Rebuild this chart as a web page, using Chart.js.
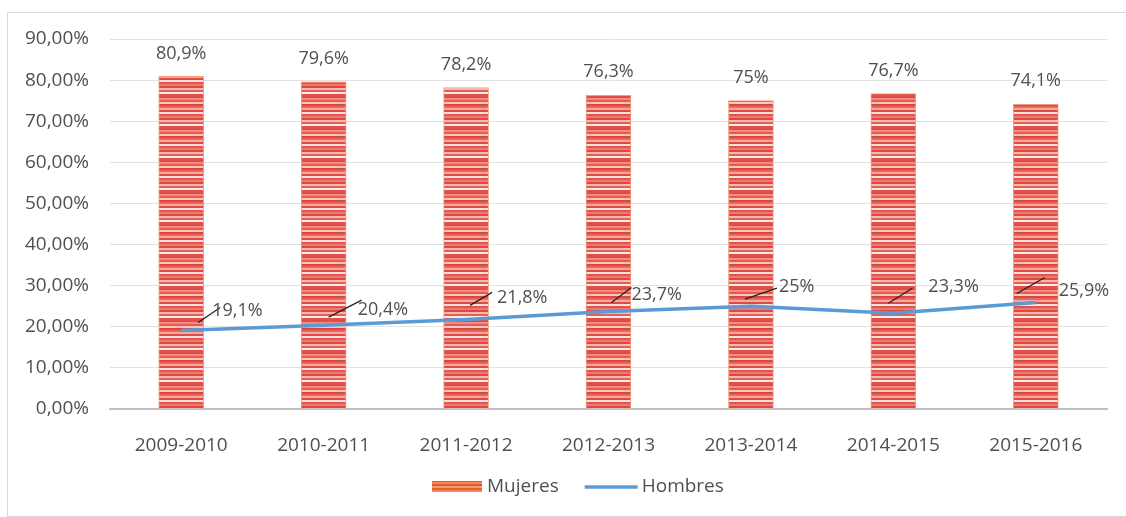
<!DOCTYPE html>
<html>
<head>
<meta charset="utf-8">
<script src="https://cdn.jsdelivr.net/npm/chart.js@4/dist/chart.umd.min.js"></script>
<style>
  body { margin: 0; background: #fff; overflow: hidden; }
  #marco { position: absolute; left: 7px; top: 12px; width: 1140px; height: 503px; border: 1px solid #d9d9d9; }
  #grafico { position: absolute; left: 0; top: 0; }
</style>
</head>
<body>
<div id="marco"></div>
<canvas id="grafico" width="1126" height="517"></canvas>
<script>
var cursos = ['2009-2010', '2010-2011', '2011-2012', '2012-2013', '2013-2014', '2014-2015', '2015-2016'];
var mujeres = [80.9, 79.6, 78.2, 76.3, 75, 76.7, 74.1];
var hombres = [19.1, 20.4, 21.8, 23.7, 25, 23.3, 25.9];
var yTicks = [0, 10, 20, 30, 40, 50, 60, 70, 80, 90];

// hand-placed labels for the line: [leader x1, y1, x2, y2, text x, text y] relative to each point
var colocacion = [
  [17, -8, 39, -23, 31, -20],
  [5, -8, 38, -25, 34, -15],
  [4, -14, 26, -27, 31, -22],
  [3, -9, 23, -24, 23, -17],
  [-6, -7, 26, -18, 28, -19],
  [-5, -10, 19, -25, 35, -26],
  [-19, -9, 9, -25, 23, -12]
];

var fuente = '"Open Sans", sans-serif';
var gris = '#505050';

function pct(v) {
  return String(v).replace('.', ',') + '%';
}

/* striped fill for the bars */
function rayas(cols, ancho) {
  var c = document.createElement('canvas');
  c.width = ancho; c.height = cols.length * 2;
  var g = c.getContext('2d');
  for (var i = 0; i < cols.length; i++) {
    g.fillStyle = cols[i];
    g.fillRect(0, i * 2, ancho, 2);
  }
  return g.createPattern(c, 'repeat');
}

var ctx = document.getElementById('grafico').getContext('2d');
var patron = rayas(['#e14c45', '#ef8d84', '#e65a52', '#f8c8c1', '#dd443e', '#e9675e', '#f4aaa2', '#e04a44',
                    '#fbe0dc', '#e3524b', '#ec7a71', '#df4741', '#f6b9b1', '#e75e56', '#fdeeeb', '#e24f48'], 4);
var patronLeyenda = rayas(['#e8602f', '#f08a5d', '#e55a2c', '#f29c74'], 4);

/* value labels, with short leader lines for the line series */
var etiquetas = {
  id: 'etiquetas',
  afterDatasetsDraw: function(chart) {
    var g = chart.ctx;
    g.save();
    g.font = '18px ' + fuente;
    g.fillStyle = gris;
    g.textAlign = 'center';
    g.textBaseline = 'middle';
    chart.getDatasetMeta(0).data.forEach(function(b, i) {
      g.fillText(pct(mujeres[i]), b.x, b.y - 23);
    });
    g.textAlign = 'left';
    chart.getDatasetMeta(1).data.forEach(function(p, i) {
      var o = colocacion[i];
      g.strokeStyle = '#222';
      g.lineWidth = 1.3;
      g.beginPath();
      g.moveTo(p.x + o[0], p.y + o[1]);
      g.lineTo(p.x + o[2], p.y + o[3]);
      g.stroke();
      g.fillText(pct(hombres[i]), p.x + o[4], p.y + o[5]);
    });
    g.restore();
  }
};

/* legend drawn under the axis: striped box for the bars, short line for the series */
var leyenda = {
  id: 'leyenda',
  afterDraw: function(chart) {
    var g = chart.ctx;
    var ds = chart.data.datasets;
    var x = 432, y = 487;
    g.save();
    g.font = '19px ' + fuente;
    g.fillStyle = gris;
    g.textBaseline = 'middle';
    g.fillStyle = patronLeyenda;
    g.fillRect(x, y - 6, 50, 11);
    g.fillStyle = gris;
    g.fillText(ds[0].label, x + 55, y);
    x += 55 + g.measureText(ds[0].label).width + 26;
    g.strokeStyle = ds[1].borderColor;
    g.lineWidth = 3.5;
    g.beginPath();
    g.moveTo(x, y);
    g.lineTo(x + 53, y);
    g.stroke();
    g.fillText(ds[1].label, x + 57, y);
    g.restore();
  }
};

new Chart(ctx, {
  type: 'bar',
  data: {
    labels: cursos,
    datasets: [
      {
        type: 'bar',
        label: 'Mujeres',
        data: mujeres,
        backgroundColor: patron,
        borderColor: '#f3a07a',
        borderWidth: 1,
        barThickness: 45,
        order: 2
      },
      {
        type: 'line',
        label: 'Hombres',
        data: hombres,
        borderColor: '#5b9bd5',
        backgroundColor: '#5b9bd5',
        borderWidth: 3.5,
        pointRadius: 0,
        tension: 0,
        order: 1
      }
    ]
  },
  options: {
    responsive: false,
    animation: false,
    layout: { padding: { top: 39, right: 19, left: 0, bottom: 0 } },
    scales: {
      x: {
        afterFit: function(s) { s.height = 108; },
        grid: { display: false },
        border: { color: '#c0c0c0', width: 2 },
        ticks: { color: gris, font: { family: 'Open Sans', size: 19 }, padding: 17 }
      },
      y: {
        min: 0, max: 90,
        afterBuildTicks: function(s) { s.ticks = yTicks.map(function(v) { return { value: v }; }); },
        afterFit: function(s) { s.width = 110; },
        grid: { color: '#e2e2e2', drawTicks: false },
        border: { display: false },
        ticks: {
          color: gris, font: { family: 'Open Sans', size: 19 }, padding: 21,
          callback: function(v) { return v.toFixed(2).replace('.', ',') + '%'; }
        }
      }
    },
    plugins: {
      legend: { display: false },
      tooltip: { enabled: false }
    }
  },
  plugins: [etiquetas, leyenda]
});
</script>
</body>
</html>
